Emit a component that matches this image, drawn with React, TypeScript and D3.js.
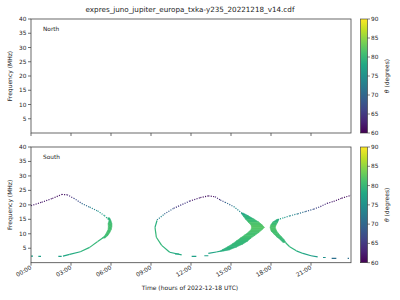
import React from "react";
import * as d3 from "d3";

const TITLE = "expres_juno_jupiter_europa_txka-y235_20221218_v14.cdf";
const HEMISPHERES = ["North", "South"];
const X_TICKS = [0, 3, 6, 9, 12, 15, 18, 21];
const X_TICK_LABELS = ["00:00", "03:00", "06:00", "09:00", "12:00", "15:00", "18:00", "21:00"];
const Y_TICKS = [5, 10, 15, 20, 25, 30, 35, 40];
const CB_TICKS = [60, 65, 70, 75, 80, 85, 90];
const X_LABEL = "Time (hours of 2022-12-18 UTC)";
const Y_LABEL = "Frequency (MHz)";

// South emission, thin sparse parts: [hour, MHz, theta deg]
const arc1Upper: number[][] = [
  [0, 19.7, 62], [0.8, 20.9, 62], [1.6, 22.2, 62], [2.3, 23.6, 61], [2.7, 23.5, 62],
  [3.2, 22.3, 65], [3.8, 20.5, 69], [4.4, 19.2, 72], [5.0, 17.9, 75], [5.5, 16.3, 77],
  [5.8, 15.0, 79],
];
const arc1Lower: number[][] = [
  [5.4, 8.6, 80], [5.0, 7.3, 80], [4.4, 5.3, 80], [3.7, 3.8, 79], [2.9, 2.9, 78], [2.4, 2.3, 78],
];
const arc2Left: number[][] = [
  [11.3, 2.7, 78], [10.4, 3.6, 79], [9.8, 6.0, 80], [9.4, 8.8, 80], [9.3, 12.2, 80], [9.45, 14.6, 78],
];
const arc2Upper: number[][] = [
  [9.45, 14.8, 76], [10.0, 16.8, 71], [10.7, 18.8, 67], [11.9, 21.3, 63], [12.7, 22.5, 62],
  [13.3, 23.1, 61], [13.8, 22.8, 62], [14.2, 21.7, 65], [14.55, 20.9, 68], [15.2, 19.4, 72],
  [15.8, 17.2, 76],
];
const arc2Lower: number[][] = [
  [14.3, 4.1, 79], [13.9, 3.7, 78], [13.3, 3.2, 77],
];
const arc3Upper: number[][] = [
  [18.5, 14.9, 78], [19.0, 15.6, 76], [19.4, 16.2, 75], [20.0, 16.9, 72], [20.6, 17.7, 70],
  [21.2, 18.5, 67], [21.7, 19.4, 65], [22.2, 20.5, 63], [22.7, 21.2, 62], [23.3, 22.3, 61],
  [24.0, 23.3, 61],
];
const arc3Lower: number[][] = [
  [19.1, 6.9, 80], [19.4, 5.5, 80], [19.9, 4.1, 79], [20.4, 3.2, 78], [21.0, 2.4, 77], [21.5, 2.0, 76],
];
// Broad parts near the turning points: [MHz, hour start, hour end, theta deg]
const tip1: number[][] = [
  [15.5, 5.75, 5.9, 79], [14.5, 5.85, 6.0, 80], [13.5, 5.78, 6.07, 81], [12.5, 5.8, 6.07, 81],
  [11.5, 5.78, 6.02, 81], [10.5, 5.68, 5.92, 81], [9.5, 5.55, 5.78, 81], [8.5, 5.35, 5.55, 80],
];
const tip2: number[][] = [
  [17.2, 15.75, 15.9, 77], [16.2, 15.9, 16.3, 79], [15.0, 16.1, 16.75, 80], [14.0, 16.3, 17.1, 81],
  [13.0, 16.5, 17.35, 82], [12.2, 16.55, 17.5, 82], [11.5, 16.5, 17.35, 82], [10.5, 16.3, 17.1, 81],
  [9.5, 16.0, 16.8, 81], [8.5, 15.7, 16.5, 81], [7.5, 15.4, 16.25, 80], [6.5, 15.1, 15.9, 80],
  [5.5, 14.75, 15.45, 80], [4.5, 14.35, 14.9, 79], [4.0, 14.2, 14.4, 79],
];
const tip3: number[][] = [
  [15.0, 18.45, 18.6, 79], [14.0, 18.12, 18.5, 80], [13.0, 17.98, 18.38, 81], [12.2, 17.93, 18.32, 82],
  [11.0, 18.0, 18.42, 81], [10.0, 18.2, 18.58, 81], [9.0, 18.42, 18.78, 81], [8.0, 18.68, 18.98, 80],
  [7.0, 18.9, 19.12, 80],
];
// Low-frequency short segments: [hour start, hour end, MHz, theta deg]
const lowDashes: number[][] = [
  [0.0, 0.15, 2.3, 77], [0.55, 0.75, 2.2, 77], [2.05, 2.3, 2.2, 77],
  [10.8, 11.1, 3.0, 78], [12.05, 12.4, 2.2, 77], [13.0, 13.3, 2.4, 77],
  [21.9, 22.1, 1.8, 75], [22.55, 22.9, 1.5, 71], [23.75, 23.85, 1.5, 71],
];

const W = 400, H = 300;
const X0 = 31, X1 = 351;
const PANELS = [
  { top: 19, bottom: 133 },
  { top: 147, bottom: 262.7 },
];
const CB_X = 360.5, CB_W = 7;
const FONT = "DejaVu Sans, sans-serif";

const color = (t: number) => d3.interpolateViridis((t - 60) / 30);

export default function App() {
  const x = d3.scaleLinear().domain([0, 24]).range([X0, X1]);
  const ySouth = d3.scaleLinear().domain([0, 40]).range([PANELS[1].bottom, PANELS[1].top]);

  const segs = (pts: number[][], dotted: boolean, key: string) =>
    pts.slice(1).map((p, i) => {
      const a = pts[i];
      return (
        <line
          key={key + i}
          x1={x(a[0])}
          y1={ySouth(a[1])}
          x2={x(p[0])}
          y2={ySouth(p[1])}
          stroke={color((a[2] + p[2]) / 2)}
          strokeWidth={1.2}
          strokeDasharray={dotted ? "1.1 1.3" : undefined}
        />
      );
    });

  const area = d3
    .area<number[]>()
    .y((d) => ySouth(d[0]))
    .x0((d) => x(d[1]))
    .x1((d) => x(d[2]))
    .curve(d3.curveLinear);

  const band = (rows: number[][], key: string) =>
    rows.slice(1).map((r, i) => (
      <path key={key + i} d={area([rows[i], r]) || ""} fill={color((rows[i][3] + r[3]) / 2)} stroke={color((rows[i][3] + r[3]) / 2)} strokeWidth={0.6} />
    ));

  return (
    <svg width={W} height={H} style={{ display: "block", position: "absolute", left: 0, top: 0 }} fontFamily={FONT}>
      <defs>
        <linearGradient id="vir" x1="0" y1="1" x2="0" y2="0">
          {d3.range(0, 1.0001, 0.1).map((t) => (
            <stop key={t} offset={t} stopColor={d3.interpolateViridis(t)} />
          ))}
        </linearGradient>
        <clipPath id="clipS">
          <rect x={X0} y={PANELS[1].top} width={X1 - X0} height={PANELS[1].bottom - PANELS[1].top} />
        </clipPath>
      </defs>
      <rect width={W} height={H} fill="white" />
      <text x={190} y={12} fontSize={7.2} textAnchor="middle" fill="#222">{TITLE}</text>

      {PANELS.map((p, pi) => {
        const y = d3.scaleLinear().domain([0, 40]).range([p.bottom, p.top]);
        const cb = d3.scaleLinear().domain([60, 90]).range([p.bottom, p.top]);
        return (
          <g key={pi}>
            <text x={43} y={p.top + 12} fontSize={5.8} fill="#222">{HEMISPHERES[pi]}</text>
            {Y_TICKS.map((t) => (
              <g key={t}>
                <line x1={X0 - 3} x2={X0} y1={y(t)} y2={y(t)} stroke="#333" strokeWidth={0.7} />
                <text x={X0 - 4.5} y={y(t) + 2} fontSize={5.8} textAnchor="end" fill="#222">{t}</text>
              </g>
            ))}
            {X_TICKS.map((t) => (
              <line key={t} x1={x(t)} x2={x(t)} y1={p.bottom} y2={p.bottom + 3} stroke="#333" strokeWidth={0.7} />
            ))}
            <text
              transform={`translate(11.5,${(p.top + p.bottom) / 2}) rotate(-90)`}
              fontSize={6}
              textAnchor="middle"
              fill="#222"
            >
              {Y_LABEL}
            </text>
            <rect x={CB_X} y={p.top} width={CB_W} height={p.bottom - p.top} fill="url(#vir)" stroke="#333" strokeWidth={0.6} />
            {CB_TICKS.map((t) => (
              <g key={t}>
                <line x1={CB_X + CB_W} x2={CB_X + CB_W + 2.5} y1={cb(t)} y2={cb(t)} stroke="#333" strokeWidth={0.6} />
                <text x={CB_X + CB_W + 3.5} y={cb(t) + 2} fontSize={5.8} fill="#222">{t}</text>
              </g>
            ))}
            <text
              transform={`translate(388.5,${(p.top + p.bottom) / 2}) rotate(-90)`}
              fontSize={6}
              textAnchor="middle"
              fill="#222"
            >
              <tspan fontStyle="italic">θ</tspan> (degrees)
            </text>
          </g>
        );
      })}

      <g clipPath="url(#clipS)">
        {band(tip1, "t1")}
        {band(tip2, "t2")}
        {band(tip3, "t3")}
        {segs(arc1Upper, true, "a1u")}
        {segs(arc1Lower, false, "a1l")}
        {segs(arc2Left, false, "a2l")}
        {segs(arc2Upper, true, "a2u")}
        {segs(arc2Lower, false, "a2w")}
        {segs(arc3Upper, true, "a3u")}
        {segs(arc3Lower, false, "a3l")}
        {lowDashes.map((d, i) => (
          <line key={"d" + i} x1={x(d[0])} x2={x(d[1])} y1={ySouth(d[2])} y2={ySouth(d[2])} stroke={color(d[3])} strokeWidth={1.2} />
        ))}
      </g>

      {PANELS.map((p, pi) => (
        <rect key={"f" + pi} x={X0} y={p.top} width={X1 - X0} height={p.bottom - p.top} fill="none" stroke="#444" strokeWidth={0.8} />
      ))}

      {X_TICKS.map((t, i) => (
        <text
          key={t}
          transform={`translate(${x(t) + 1},${PANELS[1].bottom + 6}) rotate(-30)`}
          fontSize={5.8}
          textAnchor="end"
          fill="#222"
        >
          {X_TICK_LABELS[i]}
        </text>
      ))}
      <text x={190} y={290} fontSize={6} textAnchor="middle" fill="#222">{X_LABEL}</text>
    </svg>
  );
}
